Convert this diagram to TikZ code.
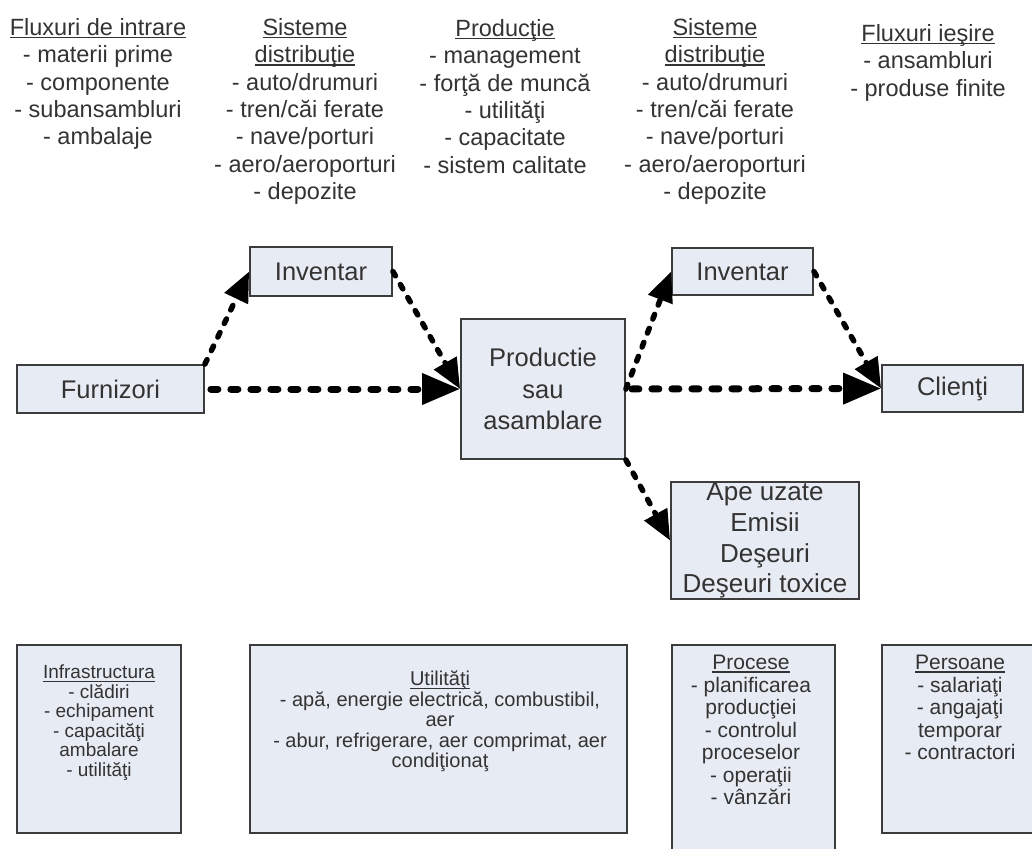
\documentclass[tikz,border=0pt]{standalone}
\usepackage{fontspec}
\setmainfont{Liberation Sans}
\usetikzlibrary{arrows.meta}
\definecolor{boxfill}{HTML}{E7EBF3}
\definecolor{boxline}{HTML}{3C3C3C}
\definecolor{txt}{HTML}{333333}
\newcommand{\myul}[1]{\setbox0\hbox{#1}\rlap{\rule[-3.2pt]{\wd0}{1.5pt}}\box0}
\tikzset{
  box/.style={draw=boxline, line width=1.8pt, fill=boxfill, text=txt, align=center, inner sep=0pt},
  boxtext/.style={text=txt, align=center, inner sep=0pt},
  coltext/.style={text=txt, align=center, inner sep=0pt, anchor=north, font=\fontsize{23.5}{27.4}\selectfont},
  flow/.style={draw=black, line width=7pt, line cap=round, dash pattern=on 7pt off 13pt, shorten <=6pt,
    -{Triangle[length=38pt,width=30pt]}},
  dflow/.style={draw=black, line width=5.5pt, line cap=round, dash pattern=on 5pt off 10pt,
    -{Triangle[length=30pt,width=25pt]}},
}
\begin{document}
\begin{tikzpicture}[x=1pt,y=-1pt]
\useasboundingbox (0,0) rectangle (1032,848);
\fill[white] (0,0) rectangle (1032,848);

% top columns
\node[coltext] (c1) at (98,18) {\myul{Fluxuri de intrare}\\- materii prime\\- componente\\- subansambluri\\- ambalaje};
\node[coltext] (c2) at (305,18) {\myul{Sisteme}\\\myul{distribuţie}\\- auto/drumuri\\- tren/căi ferate\\- nave/porturi\\- aero/aeroporturi\\- depozite};
\node[coltext] (c3) at (505,19) {\myul{Producţie}\\- management\\- forţă de muncă\\- utilităţi\\- capacitate\\- sistem calitate};
\node[coltext] (c4) at (715,18) {\myul{Sisteme}\\\myul{distribuţie}\\- auto/drumuri\\- tren/căi ferate\\- nave/porturi\\- aero/aeroporturi\\- depozite};
\node[coltext] (c5) at (928,24) {\myul{Fluxuri ieşire}\\- ansambluri\\- produse finite};

% middle boxes
\node[box, minimum width=187pt, minimum height=48pt, font=\fontsize{25.5}{31.5}\selectfont] (furn) at (110.5,389) {Furnizori};
\node[box, minimum width=142pt, minimum height=49pt, font=\fontsize{25.5}{31.5}\selectfont] (invL) at (321,271.5) {Inventar};
\node[box, minimum width=164pt, minimum height=140pt, font=\fontsize{25.5}{31.5}\selectfont] (prod) at (543,389) {Productie\\sau\\asamblare};
\node[box, minimum width=141pt, minimum height=47pt, font=\fontsize{25.5}{31.5}\selectfont] (invR) at (742.5,271.5) {Inventar};
\node[box, minimum width=141pt, minimum height=47pt, font=\fontsize{25.5}{31.5}\selectfont] (cli) at (952.5,388.5) {Clienţi};
\node[box, minimum width=188pt, minimum height=117pt] (waste) at (765,540.5) {};
\node[boxtext, font=\fontsize{26}{30.7}\selectfont] (wastetxt) at (waste.center) {Ape uzate\\Emisii\\Deşeuri\\Deşeuri toxice};

% arrows
\draw[flow] (furn.east) -- (prod.west);
\draw[flow] (prod.east) -- (cli.west);
\draw[dflow] (furn.north east) -- (invL.west);
\draw[dflow] (invL.east) -- (prod.west);
\draw[dflow] (prod.east) -- (invR.west);
\draw[dflow] (invR.east) -- (cli.west);
\draw[dflow] (prod.south east) -- (waste.west);

% bottom boxes
\node[box, minimum width=164pt, minimum height=188pt] (infra) at (99,739) {};
\node[box, minimum width=377pt, minimum height=188pt] (util) at (438.5,739) {};
\node[box, minimum width=163pt, minimum height=225pt] (proc) at (753.5,757.5) {};
\node[box, minimum width=154pt, minimum height=188pt] (pers) at (959,739) {};

\node[boxtext, anchor=north, font=\fontsize{19}{19.5}\selectfont] (infratxt) at (99,665) {\myul{Infrastructura}\\- clădiri\\- echipament\\- capacităţi\\ambalare\\- utilităţi};
\node[boxtext, anchor=north, font=\fontsize{20}{20.5}\selectfont] (utiltxt) at (440,671) {\myul{Utilităţi}\\- apă, energie electrică, combustibil,\\aer\\- abur, refrigerare, aer comprimat, aer\\condiţionaţ};
\node[boxtext, anchor=north, font=\fontsize{21}{22.5}\selectfont] (proctxt) at (751,655) {\myul{Procese}\\- planificarea\\producţiei\\- controlul\\proceselor\\- operaţii\\- vânzări};
\node[boxtext, anchor=north, font=\fontsize{21}{22.5}\selectfont] (perstxt) at (960,655) {\myul{Persoane}\\- salariaţi\\- angajaţi\\temporar\\- contractori};
\end{tikzpicture}
\end{document}
